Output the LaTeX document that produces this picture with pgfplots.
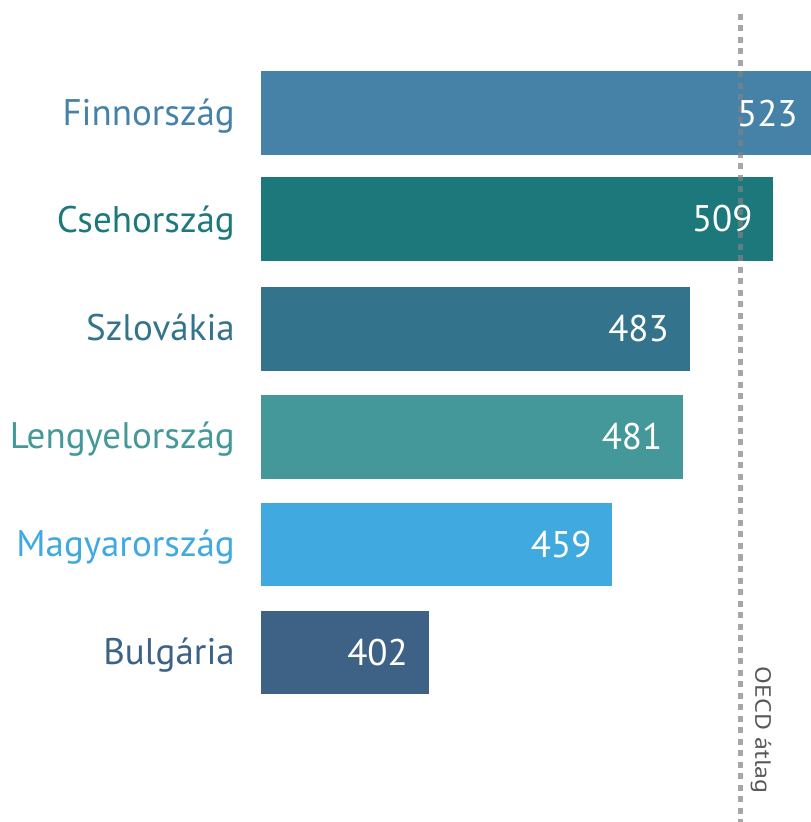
\documentclass[border=0pt]{standalone}
\usepackage{fontspec}
\setmainfont{PT Sans}
\usepackage{pgfplots}
\pgfplotsset{compat=1.18}
\definecolor{cFin}{RGB}{70,130,168}
\definecolor{cCz}{RGB}{29,120,124}
\definecolor{cSk}{RGB}{51,116,140}
\definecolor{cPl}{RGB}{69,152,154}
\definecolor{cHu}{RGB}{63,169,224}
\definecolor{cBg}{RGB}{61,98,133}
\definecolor{cLine}{RGB}{128,129,132}
\definecolor{cTxt}{RGB}{88,89,91}
\begin{document}
\begin{tikzpicture}
\useasboundingbox (0,0) rectangle (811bp,822bp);
\begin{axis}[
  at={(261bp,0bp)}, anchor=south west,
  scale only axis, width=557.4bp, height=808bp,
  xmin=350, xmax=523, ymin=-1.57, ymax=5.918,
  xbar, bar width=83.5bp, bar shift=0pt,
  axis line style={draw=none}, major tick length=0pt,
  xtick=\empty,
  ytick={0,1,2,3,4,5},
  yticklabels={\textcolor{cBg}{Bulgária},\textcolor{cHu}{Magyarország},\textcolor{cPl}{Lengyelország},\textcolor{cSk}{Szlovákia},\textcolor{cCz}{Csehország},\textcolor{cFin}{Finnország}},
  yticklabel style={anchor=base east, inner sep=0pt, xshift=-26bp, yshift=-12bp, font=\fontsize{37bp}{44bp}\selectfont},
  nodes near coords,
  /pgf/number format/assume math mode=true,
  every node near coord/.append style={anchor=center, xshift=-51bp, text=white, font=\fontsize{37bp}{44bp}\selectfont},
]
\addplot[fill=cBg, draw=none] coordinates {(402,0)};
\addplot[fill=cHu, draw=none] coordinates {(459,1)};
\addplot[fill=cPl, draw=none] coordinates {(481,2)};
\addplot[fill=cSk, draw=none] coordinates {(483,3)};
\addplot[fill=cCz, draw=none] coordinates {(509,4.02)};
\addplot[fill=cFin, draw=none] coordinates {(523,5)};
\draw[cLine, opacity=0.7, line width=4.5bp, dash pattern=on 6bp off 5.5bp] (axis cs:498.8,5.918) -- (axis cs:498.8,-1.57);
\node[rotate=-90, anchor=base, inner sep=0pt, text=cTxt, font=\fontsize{26bp}{30bp}\selectfont] at ([xshift=15bp]axis cs:498.8,-0.72) {\scalebox{1}[0.85]{OECD átlag}};
\end{axis}
\end{tikzpicture}
\end{document}
